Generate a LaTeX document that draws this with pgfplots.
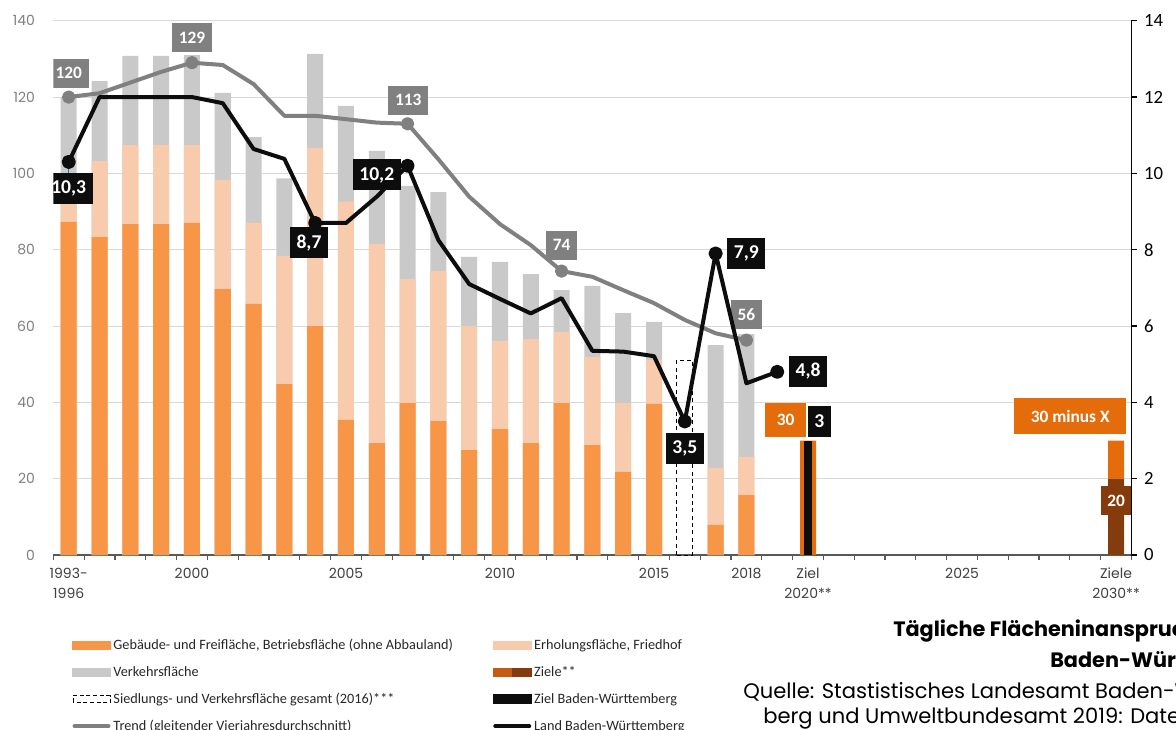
\documentclass[border=0pt]{standalone}
\usepackage{fontspec}
\setmainfont{Poppins}
\newfontfamily\calfont{Carlito}
\usepackage{pgfplots}
\pgfplotsset{compat=1.18}

\definecolor{cGeb}{HTML}{F79646}
\definecolor{cErh}{HTML}{F8CBAD}
\definecolor{cVer}{HTML}{C9C9C9}
\definecolor{cTarget}{HTML}{E46C0A}
\definecolor{cZiele}{HTML}{C55A11}
\definecolor{cBrown}{HTML}{843C0C}
\definecolor{cTrend}{HTML}{808080}
\definecolor{cBlack}{HTML}{0D0D0D}
\definecolor{cGrid}{HTML}{D9D9D9}
\definecolor{cAxis}{HTML}{595959}
\definecolor{cTickL}{HTML}{7F7F7F}
\definecolor{cTickX}{HTML}{404040}
\definecolor{cLeader}{HTML}{2E75B6}

\tikzset{
  lbl/.style={text=white, font=\calfont\bfseries\fontsize{13}{15}\selectfont,
              inner xsep=5pt, inner ysep=0pt, minimum height=21.75pt},
  glbl/.style={lbl, fill=cTrend},
  blbl/.style={lbl, fill=cBlack, font=\calfont\bfseries\fontsize{14.7}{16}\selectfont,
               inner xsep=4.9pt, minimum height=23.25pt},
  olbl/.style={lbl, fill=cTarget},
}

\begin{document}
\begin{tikzpicture}
\useasboundingbox (0,0) rectangle (882pt,546.75pt);
\clip (0,0) rectangle (882pt,546.75pt);

% left axis: daily land take Germany (ha)
\begin{axis}[
  at={(40pt,130.5pt)}, anchor=south west,
  scale only axis, width=808.6pt, height=400.7pt,
  xmin=-0.5, xmax=34.5, ymin=0, ymax=140,
  axis x line*=bottom, axis y line*=left,
  y axis line style={draw=none},
  x axis line style={cAxis, line width=0.9pt},
  xtick={0,4,9,14,19,22,24,29,34},
  xticklabels={{1993-\\1996},2000,2005,2010,2015,2018,{Ziel\\2020**},2025,{Ziele\\2030**}},
  minor xtick={-0.5,0.5,...,34.5},
  major x tick style={draw=none},
  minor x tick style={cAxis, line width=0.9pt},
  tick align=outside, minor tick length=3.5pt,
  xticklabel style={font=\fontsize{10.5}{15}\selectfont, text=cTickX, align=center, yshift=-2pt},
  ytick={0,20,...,140},
  major y tick style={draw=none},
  /pgf/number format/assume math mode=true,
  yticklabel style={font=\fontsize{10.5}{12}\selectfont, text=cTickL, xshift=-6pt},
  ymajorgrids, grid style={cGrid, line width=0.75pt},
  legend columns=2, legend cell align=left,
  legend style={at={(axis description cs:0,0)}, anchor=north west,
    xshift=14pt, yshift=-60.75pt, draw=none, fill=none, inner sep=0pt,
    font=\calfont\fontsize{10.7}{12}\selectfont, text=black!85, row sep=7pt,
    /tikz/every even column/.append style={column sep=28pt}},
]
% Verkehrsfläche (top of stack)
\addplot[ybar, bar shift=0pt, bar width=0.52, fill=cVer, draw=none, forget plot] coordinates {
 (0,120) (1,124.2) (2,130.8) (3,130.8) (4,131.0) (5,121.1) (6,109.5) (7,98.7)
 (8,131.3) (9,117.7) (10,105.9) (11,96.7) (12,95.1) (13,78.1) (14,76.8) (15,73.6)
 (16,69.4) (17,70.5) (18,63.4) (19,61.1) (21,55.0) (22,57.9)};
% Erholungsfläche, Friedhof (middle of stack)
\addplot[ybar, bar shift=0pt, bar width=0.52, fill=cErh, draw=none, forget plot] coordinates {
 (0,97) (1,103.2) (2,107.4) (3,107.4) (4,107.4) (5,98.3) (6,87.0) (7,78.4)
 (8,106.7) (9,92.6) (10,81.5) (11,72.3) (12,74.4) (13,60.0) (14,56.1) (15,56.6)
 (16,58.4) (17,51.9) (18,39.8) (19,51.1) (21,22.8) (22,25.7)};
% Gebäude- und Freifläche
\addplot[ybar, bar shift=0pt, bar width=0.52, fill=cGeb, draw=none, forget plot] coordinates {
 (0,87.3) (1,83.3) (2,86.7) (3,86.7) (4,87.0) (5,69.7) (6,65.8) (7,44.8)
 (8,60.0) (9,35.4) (10,29.3) (11,39.8) (12,35.1) (13,27.5) (14,33.0) (15,29.3)
 (16,39.8) (17,28.8) (18,21.8) (19,39.6) (21,7.9) (22,15.7)};
% Siedlungs- und Verkehrsfläche gesamt 2016
\addplot[ybar, bar shift=0pt, bar width=0.52, fill=none, draw=black, line width=0.7pt,
  dash pattern=on 3pt off 2.5pt, forget plot] coordinates {(20,51.1)};
% targets
\addplot[ybar, bar shift=0pt, bar width=0.52, fill=cTarget, draw=none, forget plot] coordinates {(24,30) (34,30)};
\addplot[ybar, bar shift=0pt, bar width=0.52, fill=cBrown, draw=none, forget plot] coordinates {(34,20)};
% trend
\addplot[cTrend, line width=3pt, line join=round, mark=*, mark size=3.5pt,
  mark options={fill=cTrend, draw=none}, mark indices={1,5,12,17,23}, forget plot] coordinates {
 (0,120) (1,121.0) (2,123.8) (3,126.6) (4,129) (5,128.4) (6,123.4) (7,115.1) (8,115.1)
 (9,114.2) (10,113.3) (11,113) (12,103.7) (13,93.9) (14,86.7) (15,81.2) (16,74.4)
 (17,72.9) (18,69.4) (19,66.0) (20,61.6) (21,58.1) (22,56.3)};

\node[glbl] at (axis cs:0,126.3) {120};
\node[glbl] at (axis cs:4,135.6) {129};
\node[glbl] at (axis cs:11.02,119.2) {113};
\node[glbl] at (axis cs:16,81.2) {74};
\node[glbl] at (axis cs:22,62.9) {56};
\node[olbl, minimum width=30.5pt, minimum height=25.5pt] at (axis cs:23.27,35.4) {30};
\node[olbl, minimum width=84pt, minimum height=27pt] at (axis cs:32.51,36.4) {30 minus X};
\node[lbl, fill=cBrown] at (axis cs:34,14.3) {20};

\addlegendimage{legend image code/.code={\fill[cGeb] (0pt,-3.25pt) rectangle (28.5pt,3.25pt);}}
\addlegendentry{Gebäude- und Freifläche, Betriebsfläche (ohne Abbauland)}
\addlegendimage{legend image code/.code={\fill[cErh] (0pt,-3.25pt) rectangle (28.5pt,3.25pt);}}
\addlegendentry{Erholungsfläche, Friedhof}
\addlegendimage{legend image code/.code={\fill[cVer] (0pt,-3.25pt) rectangle (28.5pt,3.25pt);}}
\addlegendentry{Verkehrsfläche}
\addlegendimage{legend image code/.code={\fill[cZiele] (0pt,-3.25pt) rectangle (14.25pt,3.25pt);
  \fill[cBrown] (14.25pt,-3.25pt) rectangle (28.5pt,3.25pt);}}
\addlegendentry{Ziele**}
\addlegendimage{legend image code/.code={\draw[black, line width=0.6pt, dash pattern=on 3pt off 2pt] (0.3pt,-2.5pt) rectangle (28.2pt,2.5pt);}}
\addlegendentry{Siedlungs- und Verkehrsfläche gesamt (2016)***}
\addlegendimage{legend image code/.code={\fill[cBlack] (0pt,-3.25pt) rectangle (28.5pt,3.25pt);}}
\addlegendentry{Ziel Baden-Württemberg}
\addlegendimage{legend image code/.code={\draw[cTrend, line width=3pt, line cap=round] (1.5pt,0pt) -- (27pt,0pt);}}
\addlegendentry{Trend (gleitender Vierjahresdurchschnitt)}
\addlegendimage{legend image code/.code={\draw[cBlack, line width=3pt, line cap=round] (1.5pt,0pt) -- (27pt,0pt);}}
\addlegendentry{Land Baden-Württemberg}
\end{axis}

% right axis: Baden-Württemberg (ha)
\begin{axis}[
  at={(40pt,130.5pt)}, anchor=south west,
  scale only axis, width=808.6pt, height=400.7pt,
  xmin=-0.5, xmax=34.5, ymin=0, ymax=14,
  axis x line=none, axis y line*=right,
  y axis line style={black, line width=0.9pt},
  ytick={0,2,...,14}, tick align=outside, major tick length=4pt,
  major y tick style={black, line width=0.9pt},
  /pgf/number format/assume math mode=true,
  yticklabel style={font=\calfont\fontsize{14}{16}\selectfont, text=black, xshift=2pt},
]
\addplot[ybar, bar shift=0pt, bar width=0.26, fill=cBlack, draw=none] coordinates {(24,3)};
\draw[cLeader, line width=0.6pt] (axis cs:0,10.3) -- (axis cs:0,9.95);
\addplot[cBlack, line width=3pt, line join=round, mark=*, mark size=3.8pt,
  mark options={fill=cBlack, draw=none}, mark indices={1,9,12,21,22,24}] coordinates {
 (0,10.3) (1,12.0) (2,12.0) (3,12.0) (4,12.0) (5,11.84) (6,10.64) (7,10.38) (8,8.7)
 (9,8.7) (10,9.39) (11,10.2) (12,8.25) (13,7.1) (14,6.71) (15,6.33) (16,6.73) (17,5.35)
 (18,5.33) (19,5.21) (20,3.5) (21,7.9) (22,4.5) (23,4.8)};

\node[blbl] at (axis cs:0,9.60) {10,3};
\node[blbl] at (axis cs:7.8,8.18) {8,7};
\node[blbl] at (axis cs:10,9.96) {10,2};
\node[blbl] at (axis cs:22,7.91) {7,9};
\node[blbl] at (axis cs:20,2.79) {3,5};
\node[blbl] at (axis cs:24,4.81) {4,8};
\node[blbl, inner xsep=5pt] at (axis cs:24.37,3.50) {3};
\end{axis}

% title and source, cut off at the right edge as in the original
\node[anchor=west, inner sep=0pt, font=\bfseries\fontsize{15.6}{17}\selectfont] at (669.75pt,73.5pt) {Tägliche Flächeninanspruchnahme in Deutschland und};
\node[anchor=west, inner sep=0pt, font=\bfseries\fontsize{15.6}{17}\selectfont] at (787.5pt,50.25pt) {Baden-Württemberg};
\node[anchor=west, inner sep=0pt, font=\fontsize{15.8}{17}\selectfont] at (557.25pt,27.75pt) {Quelle: Stastistisches Landesamt Baden-Württem-};
\node[anchor=west, inner sep=0pt, font=\fontsize{15.8}{17}\selectfont] at (572.25pt,7.5pt) {berg und Umweltbundesamt 2019: Daten zur Umwelt};
\end{tikzpicture}
\end{document}
